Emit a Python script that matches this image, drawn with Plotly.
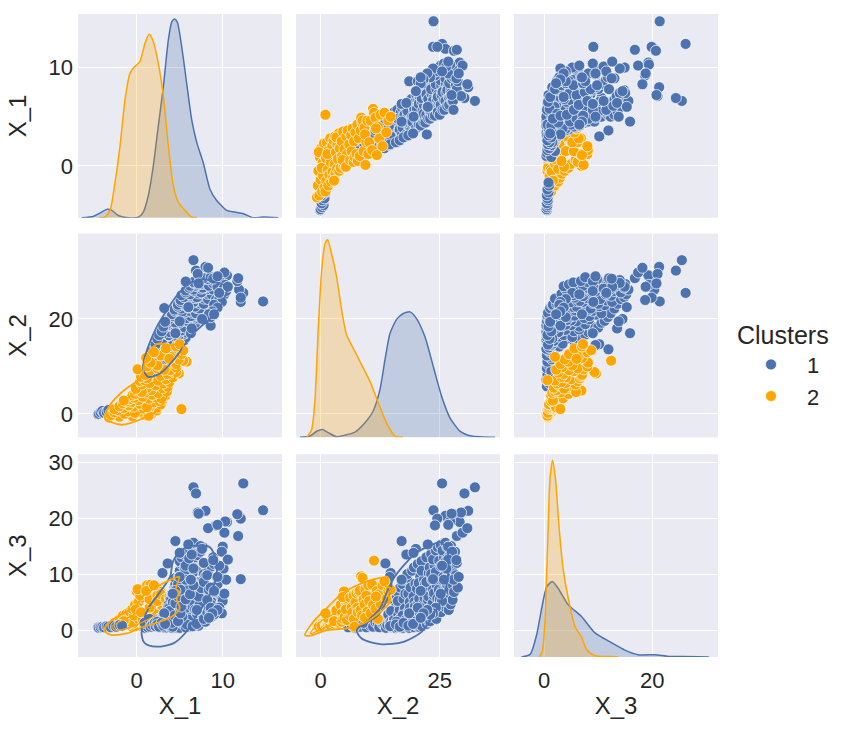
import plotly.graph_objects as go
from plotly.subplots import make_subplots

# Cluster 1 points
c1_x1 = [
    -4.5, -4.4, -4.2, -4.0, -3.8, -3.5, -3.3, -3.0, -2.7, -2.4, -2.0, -1.7,
    3.4, 2.0, 1.0, 2.8, 1.8, 3.4, 2.2, 1.3, 3.0, 2.5, 1.7, 3.2, 0.9, 1.5,
    1.6, 3.6, 1.9, 4.1, 2.3, 3.1, 1.8, 4.4, 2.6, 3.4, 2.1, 4.2,
    2.6, 5.2, 3.9, 4.4, 2.9, 3.8, 5.5, 4.1, 4.7, 3.8, 4.0, 2.8,
    2.9, 5.7, 4.5, 3.5, 5.0, 3.7, 4.6, 4.4, 5.4, 3.3, 4.8, 3.7,
    3.1, 5.9, 4.5, 5.0, 4.0, 4.5, 6.1, 3.6, 5.5, 4.8, 3.9, 5.2,
    3.2, 6.4, 4.5, 5.3, 4.1, 5.9, 4.1, 6.0, 3.8, 4.9, 5.6, 4.4,
    3.6, 6.8, 5.0, 4.2, 6.2, 4.7, 5.7, 4.2, 6.5, 5.3, 4.5, 5.9,
    3.8, 7.2, 4.6, 6.0, 5.2, 6.7, 4.2, 5.5, 7.0, 4.9, 5.8, 6.3,
    4.1, 7.7, 5.0, 6.5, 5.6, 7.2, 4.5, 6.1, 7.5, 4.8, 6.9, 5.3,
    4.4, 8.1, 5.2, 7.0, 6.0, 7.6, 4.8, 6.5, 8.0, 5.6, 7.3, 6.8,
    4.8, 8.7, 5.5, 7.3, 6.3, 8.2, 5.1, 6.9, 8.5, 5.9, 7.8, 6.6,
    5.1, 9.3, 6.0, 7.8, 6.8, 8.8, 5.5, 7.3, 9.0, 6.4, 8.3, 7.0,
    5.2, 9.7, 6.2, 8.2, 7.2, 9.2, 5.7, 7.7, 9.5, 6.7, 8.7, 7.5,
    5.7, 9.9, 6.6, 8.4, 7.5, 9.4, 6.1, 8.0, 9.8, 7.0, 8.9, 7.7,
    6.2, 9.7, 7.1, 8.6, 7.8, 9.3, 6.6, 8.2, 9.0, 7.4, 8.4, 8.9,
    6.6, 9.0, 7.4, 8.2, 7.8, 8.6,
    14.7, 12.4, 6.6, 6.9, 8.0, 12.1, 11.9, 12.1, 11.7, 11.8, 10.5, 10.2,
    9.2, 8.3, 7.1, 5.7, 8.6, 8.6, 3.2, 2.4, 4.5, 3.0, 3.6, 9.9,
    10.0, 9.9, 10.3, 10.0, 9.4, 7.2,
    2.2, 2.4, 2.6, 2.9, 3.1, 3.3, 9.6, 10.2, 10.4, 10.1, 9.9, 10.6, 9.0, 9.4, 8.8, 8.4,
    9.0, 9.6, 6.3, 5.0, 4.5, 4.2, 6.4, 7.6, 8.9, 9.4, 5.0, 6.0,
]
c1_x2 = [
    -0.1, 0.0, 0.3, 0.6, 0.2, 0.4, 0.8, 0.2, 1.0, 0.6, 1.3, 0.9,
    5.8, 6.5, 7.2, 7.8, 8.3, 8.8, 9.2, 9.6, 10.0, 10.4, 10.8, 11.0, 9.0, 7.5,
    11.0, 11.5, 12.0, 12.3, 12.8, 13.0, 13.4, 13.7, 14.0, 14.2, 14.5, 14.8,
    14.9, 15.0, 15.1, 15.2, 15.3, 15.4, 15.5, 15.6, 15.7, 15.8, 14.8, 15.4,
    16.0, 16.1, 16.2, 16.3, 16.4, 16.5, 16.6, 16.7, 16.8, 16.9, 16.2, 16.6,
    17.0, 17.1, 17.2, 17.3, 17.4, 17.5, 17.6, 17.7, 17.8, 17.9, 17.2, 17.6,
    18.0, 18.1, 18.2, 18.3, 18.4, 18.5, 18.6, 18.7, 18.8, 18.9, 18.2, 18.6,
    19.0, 19.1, 19.2, 19.3, 19.4, 19.5, 19.6, 19.7, 19.8, 19.9, 19.2, 19.6,
    20.0, 20.1, 20.2, 20.3, 20.4, 20.5, 20.6, 20.7, 20.8, 20.9, 20.2, 20.6,
    21.0, 21.1, 21.2, 21.3, 21.4, 21.5, 21.6, 21.7, 21.8, 21.9, 21.2, 21.6,
    22.0, 22.1, 22.2, 22.3, 22.4, 22.5, 22.6, 22.7, 22.8, 22.9, 22.2, 22.6,
    23.0, 23.1, 23.2, 23.3, 23.4, 23.5, 23.6, 23.7, 23.8, 23.9, 23.2, 23.6,
    24.0, 24.1, 24.2, 24.3, 24.4, 24.5, 24.6, 24.7, 24.8, 24.9, 24.2, 24.6,
    25.0, 25.1, 25.2, 25.3, 25.4, 25.5, 25.6, 25.7, 25.8, 25.9, 25.2, 25.6,
    26.0, 26.1, 26.2, 26.3, 26.4, 26.5, 26.6, 26.7, 26.8, 26.9, 26.2, 26.6,
    27.0, 27.1, 27.2, 27.3, 27.4, 27.5, 27.6, 27.7, 27.2, 27.4, 27.0, 27.5,
    27.8, 28.0, 28.2, 28.4, 28.6, 28.8,
    23.7, 25.5, 32.4, 30.2, 31.0, 23.6, 26.2, 24.5, 28.0, 28.6, 29.2, 29.8,
    24.0, 30.8, 29.5, 27.9, 18.6, 20.4, 22.3, 15.9, 17.0, 14.7, 13.6, 25.0,
    26.8, 27.6, 27.2, 25.5, 26.8, 27.5,
    14.6, 15.8, 16.6, 17.4, 18.4, 19.4, 24.2, 25.2, 25.9, 26.4, 23.6, 26.8, 23.0, 22.4, 21.6, 21.0,
    21.0, 25.5, 17.0, 14.5, 12.5, 11.5, 18.0, 20.0, 28.5, 29.0, 19.5, 22.5,
]
c1_x3 = [
    0.5, 0.4, 0.5, 0.6, 0.5, 0.7, 0.6, 0.5, 0.8, 0.6, 0.9, 0.8,
    0.5, 0.9, 0.4, 1.5, 0.6, 1.9, 1.1, 0.5, 2.5, 0.8, 1.6, 3.0, 1.3, 2.0,
    0.6, 1.4, 1.2, 0.5, 1.7, 1.1, 0.9, 0.4, 0.9, 2.8, 1.3, 1.6,
    0.5, 0.7, 5.6, 1.4, 1.3, 2.2, 1.0, 6.4, 0.4, 4.1, 3.4, 1.8,
    1.2, 0.5, 6.8, 2.7, 1.6, 4.5, 3.6, 7.6, 0.8, 0.4, 5.2, 2.0,
    0.5, 1.0, 8.2, 0.4, 5.5, 3.2, 2.2, 3.9, 6.5, 1.5, 2.6, 9.0,
    2.0, 0.6, 9.3, 1.2, 6.5, 3.4, 0.4, 5.0, 4.0, 7.6, 10.0, 2.7,
    0.9, 1.3, 10.6, 3.0, 2.2, 6.0, 0.5, 5.0, 4.2, 8.3, 1.7, 11.2,
    3.4, 0.8, 7.4, 1.9, 11.8, 4.8, 0.6, 5.6, 2.9, 9.5, 1.0, 8.4,
    1.3, 2.3, 12.3, 0.7, 6.7, 4.0, 4.8, 9.0, 5.8, 8.2, 10.6, 2.4,
    2.6, 3.2, 13.0, 1.1, 7.4, 5.4, 6.0, 10.2, 1.5, 11.2, 8.6, 3.7,
    1.6, 2.4, 13.6, 3.6, 9.0, 4.8, 7.2, 6.2, 6.6, 11.6, 10.0, 12.6,
    3.0, 3.4, 14.2, 2.0, 8.0, 5.6, 10.0, 4.5, 7.2, 12.4, 10.4, 14.8,
    4.2, 4.4, 15.2, 3.2, 6.0, 7.0, 11.5, 8.8, 9.5, 13.0, 11.4, 14.2,
    5.5, 5.0, 15.6, 4.0, 7.5, 8.2, 12.8, 9.6, 10.5, 3.6, 12.2, 14.8,
    6.4, 6.2, 13.4, 4.6, 8.6, 9.5, 11.0, 5.4, 11.8, 15.0, 7.2, 13.0,
    8.0, 6.8, 14.0, 9.8, 12.0, 7.6,
    21.4, 26.2, 25.5, 24.4, 21.3, 9.1, 20.4, 19.9, 20.7, 16.8, 19.3, 17.4,
    18.7, 18.2, 21.0, 9.0, 3.0, 4.0, 3.0, 1.5, 15.9, 10.2, 11.9, 5.4,
    14.9, 14.0, 19.4, 5.2, 18.8, 20.8,
    0.7, 1.0, 0.6, 1.3, 0.8, 1.1, 4.0, 6.5, 9.0, 11.0, 3.0, 12.6, 2.8, 3.6, 3.0, 2.2,
    7.0, 11.5, 9.0, 9.5, 7.0, 6.5, 13.5, 14.5, 12.5, 9.5, 13.8, 15.3,
]

# Cluster 2 points
c2_x1 = [
    -3.2, -2.0, -0.5, -3.0, 0.9, -1.4, 1.8, -2.6, 0.3, -1.0, 2.3, -2.2, 1.4, -0.2,
    -2.6, 0.8, -1.5, 2.4, -0.4, -2.0, 1.6, -0.9, 2.8, 0.4, -1.6, 2.0, -0.6, 1.2,
    -1.2, 2.6, 0.2, 3.0, -0.8, 1.4, -0.3, 2.2, 0.7, 3.3, -0.5, 1.8, 2.9, -1.5,
    -0.2, 2.5, 1.0, 3.5, 0.0, 1.7, 0.3, 3.0, 1.2, 3.6, 0.2, 2.2, 0.6, -0.1,
    0.6, 3.1, 1.5, 3.8, 0.4, 2.5, 0.9, 3.4, 1.2, 4.2, 0.5, 2.8,
    1.0, 3.6, 4.9, 4.4, 4.6, 1.5, 3.9, 0.1, 2.4, 4.6, 1.2, 3.2,
    2.4, 4.6, 1.6, 5.8, 5.4, 4.9, 1.1, 4.0, 2.8, 5.2, 2.0, 5.4, 3.4, 4.6, 5.0, 3.8,
    5.2,
]
c2_x2 = [
    -0.8, -0.6, -0.5, -0.3, -0.2, 0.0, 0.1, 0.3, 0.4, 0.5, 0.7, 0.8, -0.4, 0.2,
    1.0, 1.1, 1.2, 1.3, 1.5, 1.6, 1.7, 1.8, 2.0, 2.1, 2.2, 2.4, 2.5, 1.4,
    2.6, 2.7, 2.9, 3.0, 3.1, 3.2, 3.4, 3.5, 3.6, 3.8, 3.9, 4.0, 3.3, 2.8,
    4.2, 4.4, 4.5, 4.7, 4.9, 5.0, 5.2, 5.4, 5.5, 5.7, 5.8, 6.0, 4.6, 5.3,
    6.2, 6.4, 6.5, 6.7, 6.9, 7.0, 7.1, 7.3, 7.5, 7.7, 7.8, 8.0,
    8.2, 8.4, 8.5, 8.7, 8.8, 9.0, 9.2, 9.4, 9.6, 9.8, 10.0, 9.3,
    10.2, 10.5, 10.8, 11.0, 11.2, 11.5, 11.8, 12.0, 12.3, 12.6, 13.0, 13.4, 13.8, 14.2, 14.7, 11.6,
    1.0,
]
c2_x3 = [
    0.7, 0.8, 0.6, 0.9, 1.0, 0.9, 0.7, 1.2, 0.8, 1.0, 1.1, 1.4, 0.6, 0.7,
    1.3, 0.8, 1.7, 1.0, 1.2, 1.9, 1.5, 2.3, 0.9, 1.8, 2.6, 2.1, 1.4, 2.2,
    2.9, 1.2, 2.0, 1.5, 3.3, 1.7, 2.6, 3.0, 1.9, 1.3, 3.8, 2.4, 3.5, 1.6,
    4.5, 1.5, 3.0, 2.0, 6.9, 2.3, 5.2, 4.2, 1.8, 3.6, 5.0, 2.8, 5.9, 3.7,
    5.8, 2.4, 4.0, 3.2, 6.2, 2.0, 0.6, 5.0, 6.6, 4.0, 3.2, 6.8,
    7.0, 3.6, 9.6, 2.6, 9.3, 5.5, 4.6, 7.3, 6.2, 3.3, 8.0, 2.2,
    5.2, 3.0, 8.1, 4.5, 12.4, 3.8, 7.0, 2.0, 6.4, 4.6, 8.0, 8.7, 5.6, 7.0, 7.2, 6.0,
    3.0,
]

# KDE curves on the diagonal, height as percent of the panel
kde1_c1_x = [-6.4, -5.05, -4.27, -3.49, -2.9, -2.14, -0.98, 0.19, 0.77, 1.35, 1.93, 2.51, 3.1, 3.68, 4.07, 4.38, 4.72, 5.23, 5.81, 6.4, 6.98, 7.74, 8.52, 9.3, 10.47, 11.43, 12.4, 13.56, 14.7, 16.47]
kde1_c1_y = [0, 0.65, 2.3, 4.1, 3.6, 1.1, 0, 0.3, 2.8, 10.9, 25.5, 45, 64.5, 87.3, 96, 97.5, 96, 84, 66, 48, 37, 27, 14, 8.5, 3.6, 2.8, 2, 0, 0.3, 0]
kde1_c2_x = [-4.35, -3.69, -3.1, -2.52, -1.94, -1.36, -0.78, -0.2, 0.38, 0.97, 1.47, 1.93, 2.51, 3.1, 3.68, 4.26, 4.84, 5.62, 6.4, 7.05]
kde1_c2_y = [0, 0.3, 3.6, 17.4, 35.3, 58, 71, 74.3, 76.7, 85.7, 90, 86.5, 75.9, 59.7, 35.3, 15.8, 7.6, 3.6, 0.3, 0]
kde2_c1_x = [-4.35, -2.25, -0.85, 0.35, 1.6, 3.35, 5.1, 7.2, 9.3, 11, 12.45, 13.5, 14.55, 15.95, 17.35, 18.75, 20.1, 21.9, 23.65, 25.4, 27.15, 29.25, 31.7, 36.6]
kde2_c1_y = [0, 0.65, 3, 3.9, 2.3, 0.3, 1.1, 2.6, 7.2, 12.8, 23.4, 38, 51, 57.9, 60.8, 61.6, 58.4, 49.4, 34.8, 20.2, 9.6, 3.1, 0.65, 0]
kde2_c2_x = [-2.94, -1.9, -1.2, -0.5, 0.2, 0.9, 1.46, 2.3, 3.35, 4.4, 5.45, 6.85, 8.6, 10.35, 12.1, 13.85, 15.6, 17.3]
kde2_c2_y = [0, 3.9, 18.5, 54, 82, 95, 97, 90, 78.7, 62.4, 50.2, 43.7, 35.6, 27.5, 17, 7, 0.65, 0]
kde3_c1_x = [-4.2, -2.6, -1.4, -0.47, 0.45, 1.5, 2.6, 4.45, 6.9, 9.4, 12.5, 14.95, 17.4, 20.5, 23, 26, 30.5]
kde3_c1_y = [0, 1.3, 11, 24, 34.6, 37.2, 33.8, 25.7, 20, 11.9, 7, 3.4, 1.1, 1.1, 0.3, 0.2, 0]
kde3_c2_x = [-0.93, -0.35, 0.13, 0.63, 1.06, 1.55, 2.1, 2.73, 3.5, 4.45, 5.7, 6.9, 7.85, 9.1, 10.6, 12.5, 13.7]
kde3_c2_y = [0, 2.9, 17.6, 55, 87.5, 97, 87.5, 64.7, 43.6, 29, 15, 10, 3.7, 1, 0.2, 0.3, 0]

# Density contours in the lower panels
c21_blue_x = [1.35, 0.77, 0.85, 1.47, 2.32, 3.48, 4.65, 6.0, 7.75, 9.3, 10.6, 10.3, 9.7, 8.5, 7.4, 6.4, 5.4, 4.26, 2.7, 1.35]
c21_blue_y = [7.8, 9.2, 11.3, 14.8, 18.3, 21.8, 24.9, 27.4, 28.4, 27.7, 26.7, 24.9, 22.5, 20, 18.3, 16.6, 14.1, 11.3, 8.5, 7.8]
c21_orange_x = [-3.69, -1.74, 0.77, 2.5, 3.48, 3.87, 4.65, 5.2, 5.4, 3.87, 2.5, 1.55, 0.97, 0.7, 0.2, -1.16, -2.3, -3.1, -3.69]
c21_orange_y = [-0.92, -2.3, -0.92, 0.84, 3.6, 5.7, 8.5, 12, 14.7, 14.5, 14.8, 13.4, 11.3, 8.5, 7.1, 5.4, 3.6, 1.9, -0.92]
c21_inner_x = [-2.72, -1.36, 0.2, 1.55, 2.7, 2.7, 1.55, -0.77, -2.1, -2.72]
c21_inner_y = [0.5, 2.9, 5, 6.4, 6.8, 3.6, 1.2, -0.2, -0.2, 0.5]

c31_blue_x = [0.58, 0.97, 2.3, 4.26, 5.6, 6.97, 8.13, 9.1, 9.3, 8.5, 7.2, 5.4, 4.26, 3.87, 2.7, 1.35, 0.77, 0.58]
c31_blue_y = [-0.89, -2.37, -2.96, -2.37, -0.6, 2.66, 5.3, 8.6, 12.1, 14.8, 15.1, 14.5, 12.4, 9.5, 6.8, 3.9, 1.5, -0.89]
c31_orange_x = [-3.8, -3.1, -1.55, 0, 0.58, 2.3, 4.26, 4.96, 4.57, 5.0, 4.65, 5.0, 4.07, 2.7, 0.77, -1.16, -3.1, -3.8]
c31_orange_y = [0, 1.5, 3.0, 4.4, 5.9, 7.7, 9.2, 9.5, 7.4, 6.8, 5.6, 3.9, 2.4, 1.5, 0.6, -0.6, -0.8, 0]
c31_inner_x = [-2.9, -1.16, 0.77, 2.1, 2.1, 0.77, -1.16, -2.5, -2.9]
c31_inner_y = [0.6, 2.1, 3.6, 4.2, 2.7, 1.5, 0.3, 0, 0.6]

c32_blue_x = [7.56, 8.6, 12.5, 17.4, 21.2, 23.6, 26.1, 26.8, 26.5, 25.1, 23, 20.2, 17.4, 15.3, 13.9, 12.5, 9.65, 7.56]
c32_blue_y = [0, -1.5, -2.5, -2.1, -0.3, 2.7, 6.8, 10.4, 14.5, 15.7, 15.1, 13.9, 11.5, 9.2, 6.8, 3.9, 1.5, 0]
c32_blue2_x = [7.9, 12.1, 14.6, 14.9]
c32_blue2_y = [0.6, 2.7, 6.8, 8.6]
c32_orange_x = [-3.3, -1.55, 1.25, 4.05, 6.85, 10.35, 14.2, 13.5, 14.9, 14.2, 14.55, 11.75, 8.95, 5.45, 1.25, -2.2, -3.3]
c32_orange_y = [-0.9, 1.5, 3.9, 6.2, 7.7, 8.9, 9.4, 8, 7.4, 6.2, 5.0, 2.7, 1.2, 0.3, 0, -1.0, -0.9]
c32_inner_x = [-2.2, -0.5, 2.3, 5.1, 5.8, 2.65, -0.15, -2.2]
c32_inner_y = [-0.6, 1.2, 2.7, 3.6, 2.7, 1.2, 0, -0.6]

var_names = ["X_1", "X_2", "X_3"]
x_ranges = [[-6.83, 16.9], [-5.19, 37.67], [-5.6, 32.2]]
y_ranges = [[-5.27, 15.44], [-4.96, 38.0], [-4.8, 31.4]]
x_ticks = [[0, 10], [0, 25], [0, 20]]
y_ticks = [[0, 10], [0, 20], [0, 10, 20, 30]]

BLUE = "#4C72B0"
ORANGE = "#FFA500"
BLUE_FILL = "rgba(76,114,176,0.25)"
ORANGE_FILL = "rgba(255,165,0,0.25)"
TEXT = "#262626"
W, H = 849, 730
# plot area edges, margins are big enough that nothing pushes them
LEFT, RIGHT, TOP, BOTTOM = 78, 718, 10, 657
col_px = [(78, 282), (296, 500), (514, 718)]
row_px = [(10, 215), (231, 436), (453, 657)]

c1 = [c1_x1, c1_x2, c1_x3]
c2 = [c2_x1, c2_x2, c2_x3]


def xfrac(px):
    return (px - LEFT) / (RIGHT - LEFT)


def yfrac(px):
    return 1 - (px - TOP) / (BOTTOM - TOP)


fig = make_subplots(rows=3, cols=3)

for r in range(3):
    for c in range(3):
        n = r * 3 + c + 1
        suffix = "" if n == 1 else str(n)
        fig.layout["xaxis" + suffix].update(
            domain=[xfrac(col_px[c][0]), xfrac(col_px[c][1])],
            range=x_ranges[c], tickvals=x_ticks[c],
            showticklabels=(r == 2),
            title=dict(text=var_names[c] if r == 2 else "", standoff=5),
        )
        lo, hi = y_ranges[r]
        if r == c:
            # diagonal panels hold a density, so the y axis runs 0-100 and the
            # row's gridlines and labels are placed on that scale
            yrange = [0, 100]
            yvals = [(v - lo) / (hi - lo) * 100 for v in y_ticks[r]]
        else:
            yrange = [lo, hi]
            yvals = y_ticks[r]
        fig.layout["yaxis" + suffix].update(
            domain=[yfrac(row_px[r][1]), yfrac(row_px[r][0])],
            range=yrange, tickvals=yvals, ticktext=[str(v) for v in y_ticks[r]],
            showticklabels=(c == 0),
            title=dict(text=var_names[r] if c == 0 else "", standoff=15),
        )

fig.update_xaxes(showgrid=True, gridcolor="white", gridwidth=1.4, zeroline=False, showline=False, ticks="", ticklabelstandoff=8, tickfont=dict(size=22, color=TEXT), title_font=dict(size=24, color=TEXT))
fig.update_yaxes(showgrid=True, gridcolor="white", gridwidth=1.4, zeroline=False, showline=False, ticks="", ticklabelstandoff=4, tickfont=dict(size=22, color=TEXT), title_font=dict(size=24, color=TEXT))


def add_points(r, c, xi, yi, order):
    # xi / yi are variable indices, order is which cluster lands on top
    for k in order:
        data = c1 if k == 1 else c2
        fig.add_trace(go.Scatter(
            x=data[xi], y=data[yi], mode="markers", name=str(k),
            legendgroup=str(k), showlegend=(r == 1 and c == 2),
            marker=dict(size=11, color=BLUE if k == 1 else ORANGE, line=dict(color="white", width=0.7)),
        ), row=r, col=c)


def add_contour(r, c, x, y, color, width=1.8):
    fig.add_trace(go.Scatter(
        x=x, y=y, mode="lines", showlegend=False,
        line=dict(color=color, width=width, shape="spline", smoothing=0.8),
    ), row=r, col=c)


def add_kde(i, x, y, color, fill):
    fig.add_trace(go.Scatter(
        x=x, y=y, mode="lines", showlegend=False, fill="tozeroy", fillcolor=fill,
        line=dict(color=color, width=1.5, shape="spline", smoothing=0.6),
        cliponaxis=False,
    ), row=i, col=i)


# upper triangle
add_points(1, 2, 1, 0, [1, 2])
add_points(1, 3, 2, 0, [2, 1])
add_points(2, 3, 2, 1, [1, 2])
# lower triangle, scatter with contours over it
add_points(2, 1, 0, 1, [1, 2])
add_contour(2, 1, c21_blue_x, c21_blue_y, BLUE)
add_contour(2, 1, c21_orange_x, c21_orange_y, ORANGE)
add_contour(2, 1, c21_inner_x, c21_inner_y, ORANGE, 1.2)
add_points(3, 1, 0, 2, [2, 1])
add_contour(3, 1, c31_blue_x, c31_blue_y, BLUE)
add_contour(3, 1, c31_orange_x, c31_orange_y, ORANGE)
add_contour(3, 1, c31_inner_x, c31_inner_y, ORANGE, 1.2)
add_points(3, 2, 1, 2, [1, 2])
add_contour(3, 2, c32_blue_x, c32_blue_y, BLUE)
add_contour(3, 2, c32_blue2_x, c32_blue2_y, BLUE)
add_contour(3, 2, c32_orange_x, c32_orange_y, ORANGE)
add_contour(3, 2, c32_inner_x, c32_inner_y, ORANGE, 1.2)

# diagonal
add_kde(1, kde1_c1_x, kde1_c1_y, BLUE, BLUE_FILL)
add_kde(1, kde1_c2_x, kde1_c2_y, ORANGE, ORANGE_FILL)
add_kde(2, kde2_c1_x, kde2_c1_y, BLUE, BLUE_FILL)
add_kde(2, kde2_c2_x, kde2_c2_y, ORANGE, ORANGE_FILL)
add_kde(3, kde3_c1_x, kde3_c1_y, BLUE, BLUE_FILL)
add_kde(3, kde3_c2_x, kde3_c2_y, ORANGE, ORANGE_FILL)

fig.update_layout(
    width=W, height=H,
    margin=dict(l=LEFT, r=W - RIGHT, t=TOP, b=H - BOTTOM),
    paper_bgcolor="white", plot_bgcolor="#EAEAF2",
    font=dict(family="Liberation Sans, Arial, sans-serif", color=TEXT),
    legend=dict(
        title=dict(text="Clusters", font=dict(size=25, color=TEXT)),
        font=dict(size=22, color=TEXT),
        x=xfrac(735), xanchor="left", y=yfrac(309), yanchor="top",
        bgcolor="rgba(0,0,0,0)", itemwidth=62, tracegroupgap=0,
    ),
)

fig.write_html("out.html", config=dict(displayModeBar=False), post_script="document.body.style.margin='0';")
